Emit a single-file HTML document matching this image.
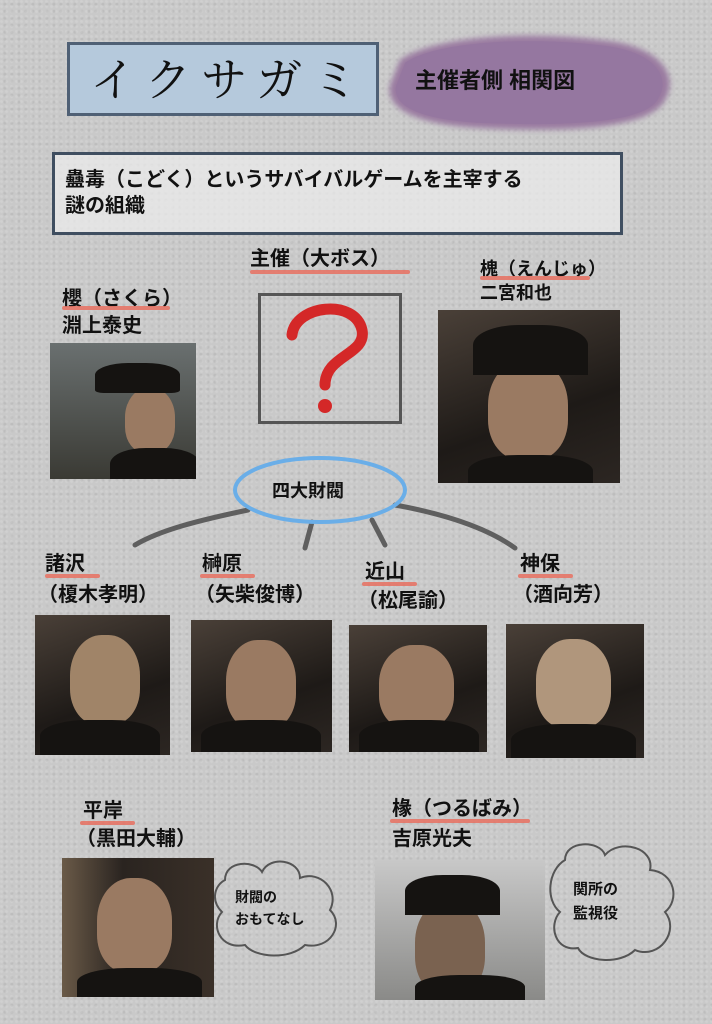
<!DOCTYPE html>
<html><head><meta charset="utf-8"><style>
html,body{margin:0;padding:0}
body{width:712px;height:1024px;position:relative;overflow:hidden;background:#c9c9c9;
background-image:radial-gradient(circle at 30% 30%,rgba(255,255,255,.12) 0 1px,transparent 2px),radial-gradient(circle at 70% 60%,rgba(0,0,0,.06) 0 1px,transparent 2px);
background-size:5px 5px,7px 7px;
font-family:"Liberation Sans","Noto Sans CJK JP",sans-serif;color:#111}
.a{position:absolute}
.t{position:absolute;font-weight:bold;font-size:20px;line-height:26px;white-space:nowrap}
.ul{position:absolute;height:4px;background:#e87060;border-radius:3px;opacity:.85}
.ph{position:absolute;background:linear-gradient(160deg,#4a4038,#1e1a17 60%,#2c2622);overflow:hidden}
.ph .f{position:absolute;border-radius:45% 45% 40% 40%;background:#9a7a62}
.ph .b{position:absolute;background:#151311;border-radius:40% 40% 0 0}
</style></head><body>
<svg class="a" style="left:0;top:0" width="712" height="1024">
<defs><filter id="bl"><feGaussianBlur stdDeviation="3"/></filter></defs>
<path d="M400 60 C430 38 520 30 600 40 C660 45 680 75 665 100 C650 130 560 132 480 128 C420 125 385 110 390 85 Z" fill="#9a7aa0" filter="url(#bl)"/>
<path d="M405 63 C432 43 520 36 598 45 C655 50 672 77 658 99 C645 124 560 126 482 123 C425 120 392 108 396 86 Z" fill="#9577a0"/>
<g stroke="#5f5f5f" stroke-width="5" fill="none" stroke-linecap="round">
<path d="M248 510 C200 520 160 530 135 545"/>
<path d="M312 522 L305 548"/>
<path d="M372 520 L385 545"/>
<path d="M395 505 C450 515 490 530 515 548"/>
</g>
<ellipse cx="320" cy="490" rx="85" ry="32" fill="none" stroke="#6aaee8" stroke-width="4"/>
<path d="M225 880 C225 860 255 860 262 872 C270 855 300 860 300 878 C320 870 340 890 330 910 C345 925 330 950 305 945 C290 960 255 958 245 945 C220 950 210 925 222 912 C210 900 215 885 225 880 Z" fill="none" stroke="#555" stroke-width="2"/>
<path d="M565 860 C565 840 600 840 605 855 C620 838 655 848 650 870 C675 872 680 900 665 912 C680 930 660 960 635 950 C620 965 585 962 578 948 C555 952 548 925 560 912 C545 900 548 870 565 860 Z" fill="none" stroke="#555" stroke-width="2"/>
<path d="M292 335 C295 305 355 298 362 330 C367 355 325 355 325 385" fill="none" stroke="#d42828" stroke-width="11" stroke-linecap="round"/>
<circle cx="325" cy="406" r="7" fill="#d42828"/>
</svg>
<div class="a" style="left:67px;top:42px;width:306px;height:68px;background:#b5c9dc;border:3px solid #4f6075"></div>
<div class="t" style="left:90px;top:52px;font-size:46px;line-height:50px;font-weight:normal;letter-spacing:10px;font-family:'Noto Serif CJK SC','Noto Sans CJK JP',serif">イクサガミ</div>
<div class="t" style="left:415px;top:68px;font-size:22px">主催者側 相関図</div>
<div class="a" style="left:52px;top:152px;width:565px;height:77px;background:rgba(235,235,235,.75);border:3px solid #3f4e60"></div>
<div class="t" style="left:65px;top:167px;font-size:20px">蠱毒（こどく）というサバイバルゲームを主宰する<br>謎の組織</div>
<div class="t" style="left:250px;top:246px">主催（大ボス）</div><div class="ul" style="left:250px;top:270px;width:160px"></div>
<div class="a" style="left:258px;top:293px;width:138px;height:125px;border:3px solid #555"></div>
<div class="t" style="left:62px;top:286px">櫻（さくら）</div><div class="ul" style="left:62px;top:306px;width:108px"></div>
<div class="t" style="left:62px;top:313px">淵上泰史</div>
<div class="t" style="left:480px;top:256px;font-size:18px">槐（えんじゅ）</div><div class="ul" style="left:480px;top:276px;width:110px"></div>
<div class="t" style="left:480px;top:280px;font-size:18px">二宮和也</div>
<div class="ph" style="left:50px;top:343px;width:146px;height:136px;background:linear-gradient(180deg,#6a7070,#3a3a34)"><div class="f" style="left:75px;top:45px;width:50px;height:65px"></div><div class="b" style="left:45px;top:20px;width:85px;height:30px;border-radius:40% 40% 10% 10%"></div><div class="b" style="left:60px;top:105px;width:90px;height:40px"></div></div>
<div class="ph" style="left:438px;top:310px;width:182px;height:173px"><div class="f" style="left:50px;top:50px;width:80px;height:100px"></div><div class="b" style="left:35px;top:15px;width:115px;height:50px"></div><div class="b" style="left:30px;top:145px;width:125px;height:40px"></div></div>
<div class="t" style="left:272px;top:478px;font-size:18px">四大財閥</div>
<div class="t" style="left:45px;top:551px">諸沢</div><div class="ul" style="left:45px;top:574px;width:55px"></div>
<div class="t" style="left:38px;top:582px">（榎木孝明）</div>
<div class="t" style="left:202px;top:551px">榊原</div><div class="ul" style="left:200px;top:574px;width:55px"></div>
<div class="t" style="left:195px;top:582px">（矢柴俊博）</div>
<div class="t" style="left:365px;top:559px">近山</div><div class="ul" style="left:362px;top:582px;width:55px"></div>
<div class="t" style="left:358px;top:588px">（松尾諭）</div>
<div class="t" style="left:520px;top:551px">神保</div><div class="ul" style="left:518px;top:574px;width:55px"></div>
<div class="t" style="left:513px;top:582px">（酒向芳）</div>
<div class="ph" style="left:35px;top:615px;width:135px;height:140px"><div class="f" style="left:35px;top:20px;width:70px;height:90px;background:#a08468"></div><div class="b" style="left:5px;top:105px;width:120px;height:40px"></div></div>
<div class="ph" style="left:191px;top:620px;width:141px;height:132px"><div class="f" style="left:35px;top:20px;width:70px;height:90px"></div><div class="b" style="left:10px;top:100px;width:120px;height:40px"></div></div>
<div class="ph" style="left:349px;top:625px;width:138px;height:127px"><div class="f" style="left:30px;top:20px;width:75px;height:85px"></div><div class="b" style="left:10px;top:95px;width:120px;height:40px"></div></div>
<div class="ph" style="left:506px;top:624px;width:138px;height:134px"><div class="f" style="left:30px;top:15px;width:75px;height:90px;background:#b0967c"></div><div class="b" style="left:5px;top:100px;width:125px;height:40px"></div></div>
<div class="t" style="left:83px;top:798px">平岸</div><div class="ul" style="left:80px;top:821px;width:55px"></div>
<div class="t" style="left:76px;top:826px">（黒田大輔）</div>
<div class="t" style="left:392px;top:796px">椽（つるばみ）</div><div class="ul" style="left:390px;top:819px;width:140px"></div>
<div class="t" style="left:392px;top:826px">吉原光夫</div>
<div class="ph" style="left:62px;top:858px;width:152px;height:139px;background:linear-gradient(90deg,#6a5a48,#2a2420 40%,#3a3028)"><div class="f" style="left:35px;top:20px;width:75px;height:95px"></div><div class="b" style="left:15px;top:110px;width:125px;height:35px"></div></div>
<div class="ph" style="left:375px;top:860px;width:170px;height:140px;background:linear-gradient(180deg,#c8c8c8,#8a8a88)"><div class="f" style="left:40px;top:40px;width:70px;height:95px;background:#7a6250"></div><div class="b" style="left:30px;top:15px;width:95px;height:40px"></div><div class="b" style="left:40px;top:115px;width:110px;height:30px"></div></div>
<div class="t" style="left:235px;top:886px;font-size:14px;line-height:22px">財閥の<br>おもてなし</div>
<div class="t" style="left:573px;top:878px;font-size:15px;line-height:24px">関所の<br>監視役</div>
</body></html>
